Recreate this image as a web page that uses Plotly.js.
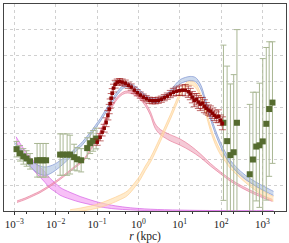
<!DOCTYPE html>
<html><head><meta charset="utf-8">
<script src="https://cdn.plot.ly/plotly-3.0.1.min.js"></script>
<style>html,body{margin:0;padding:0;background:#fff}#c{width:289px;height:243px}</style>
</head><body><div id="c"></div>
<script>
// ---- observed data: red (inner) ----
const rRed = [0.101,0.119,0.133,0.149,0.166,0.183,0.197,0.208,0.220,0.233,0.250,0.275,0.308,0.353,0.406,0.481,0.568,0.671,0.794,0.938,1.109,1.311,1.550,1.833,2.167,2.561,3.03,3.58,4.23,5.00,5.91,6.99,8.26,9.77,11.5,13.6,16.1,18.0,20.2,22.5,25.2,28.2,31.5,35.2,39.4,44.0,49.2,55.1,61.5,68.9,76.9,86.1,96.2,107.5];
const yRed = [2.66,2.85,3.05,3.20,3.43,3.70,3.94,4.15,4.36,4.55,4.75,4.90,4.98,5.00,4.98,4.94,4.86,4.79,4.67,4.57,4.48,4.40,4.34,4.28,4.26,4.26,4.28,4.32,4.38,4.44,4.52,4.59,4.63,4.65,4.67,4.67,4.61,4.52,4.40,4.28,4.32,4.21,4.13,4.17,4.05,3.97,3.90,3.86,3.78,3.70,3.63,3.66,3.51,3.39];
const eRed = [0.12,0.14,0.15,0.15,0.17,0.18,0.18,0.18,0.18,0.18,0.15,0.15,0.12,0.12,0.12,0.12,0.12,0.12,0.12,0.12,0.12,0.12,0.12,0.12,0.12,0.12,0.12,0.12,0.12,0.12,0.14,0.15,0.16,0.18,0.2,0.22,0.22,0.22,0.22,0.25,0.22,0.25,0.25,0.22,0.25,0.22,0.2,0.2,0.2,0.2,0.2,0.25,0.2,0.25];

// ---- observed data: green ----
const rGreen = [0.00113,0.00137,0.00165,0.00198,0.0024,0.00355,0.0042,0.00496,0.00586,0.0128,0.0151,0.0189,0.0223,0.0279,0.033,0.0413,0.0577,0.0682,0.0805,0.0953,114,140,168,202,242,493,589,708,847,1019,1239,1455,1750];
const yGreen = [2.39,2.23,2.11,2.03,1.92,1.96,1.96,1.96,1.96,2.18,2.18,2.18,2.18,2.08,2.00,1.96,2.43,2.62,2.71,2.80,3.41,2.70,2.16,2.27,3.41,1.42,1.99,2.49,2.54,2.69,3.37,3.94,4.19];
const eGreen = [0.3,0.3,0.3,0.3,0.3,0.65,0.65,0.65,0.65,0.8,0.8,0.8,0.75,0.5,0.45,0.45,0.4,0.4,0.4,0.4,3.0,2.9,2.75,3.0,3.6,2.7,2.6,2.1,2.4,3.2,2.95,2.6,2.35];

// ---- model bands: centre and half-width ----
const rBlue = [0.00104,0.00137,0.00182,0.0024,0.00317,0.0042,0.00555,0.00733,0.00968,0.0128,0.0169,0.0223,0.0295,0.0391,0.0516,0.0682,0.0902,0.119,0.157,0.208,0.275,0.364,0.481,0.635,0.839,1.109,1.466,1.937,2.56,3.39,4.48,5.91,7.82,10.3,13.6,18.0,23.9,31.5,41.7,55.1,72.8,96.2,127,168,222,294,388,513,678,896,1183,1563,1850];
const yBlue = [2.54,2.31,2.08,1.85,1.69,1.58,1.54,1.59,1.69,1.83,1.98,2.14,2.35,2.52,2.74,2.97,3.24,3.51,3.82,4.13,4.44,4.69,4.86,4.85,4.75,4.59,4.42,4.30,4.26,4.30,4.42,4.59,4.81,5.00,5.08,5.12,5.08,4.83,4.25,3.63,3.06,2.58,2.19,1.88,1.65,1.46,1.30,1.17,1.05,0.94,0.84,0.74,0.68];
const wBlue = [0.10,0.11,0.12,0.13,0.15,0.16,0.16,0.15,0.13,0.12,0.10,0.08,0.07,0.06,0.06,0.06,0.06,0.06,0.06,0.06,0.06,0.06,0.07,0.07,0.07,0.07,0.07,0.07,0.07,0.07,0.07,0.07,0.08,0.08,0.08,0.08,0.08,0.08,0.08,0.08,0.08,0.08,0.08,0.08,0.08,0.08,0.08,0.08,0.08,0.08,0.08,0.08,0.08];

const rViolet = [0.0011,0.00137,0.00182,0.0024,0.00317,0.0042,0.00555,0.00733,0.00968,0.0128,0.0223,0.0391,0.0682,0.119,0.275,0.635,1.937,10.3,96.2,1850];
const yViolet = [2.77,2.50,2.19,1.92,1.69,1.50,1.30,1.07,0.92,0.76,0.59,0.45,0.34,0.24,0.14,0.085,0.04,0.015,0.006,0.002];
const wViolet = [0.10,0.12,0.14,0.16,0.18,0.19,0.20,0.19,0.17,0.15,0.13,0.11,0.09,0.08,0.06,0.04,0.03,0.02,0.01,0.005];

const rPink = [0.00116,0.00182,0.00284,0.0042,0.00733,0.0128,0.0189,0.0295,0.0461,0.0682,0.101,0.157,0.208,0.275,0.364,0.481,0.635,0.839,1.109,1.466,1.937,2.56,3.39,4.48,5.91,10.3,18.0,31.5,55.1,96.2,168,294,513,896,1750];
const yPink = [0.36,0.47,0.61,0.74,0.98,1.25,1.46,1.71,1.95,2.35,2.81,3.47,3.90,4.25,4.48,4.59,4.59,4.52,4.36,4.13,3.78,3.28,3.05,2.93,2.83,2.66,2.43,2.14,1.79,1.48,1.19,0.96,0.76,0.59,0.41];
const wPink = [0.03,0.03,0.03,0.03,0.03,0.03,0.03,0.03,0.03,0.03,0.04,0.04,0.04,0.04,0.04,0.04,0.04,0.05,0.05,0.06,0.07,0.09,0.1,0.11,0.12,0.12,0.1,0.07,0.05,0.04,0.04,0.04,0.04,0.04,0.04];

const rOrange = [0.0223,0.0391,0.0682,0.119,0.208,0.364,0.537,0.839,1.109,1.466,1.937,2.56,3.39,4.48,5.91,7.82,10.3,13.6,18.0,23.9,31.5,41.7,55.1,72.8,96.2,127,168,222,294,388,513,801,1183,1850];
const yOrange = [0.0,0.05,0.12,0.22,0.36,0.53,0.68,1.03,1.30,1.65,1.96,2.35,2.77,3.20,3.63,4.09,4.52,4.83,4.96,4.86,4.48,3.90,3.20,2.66,2.27,2.00,1.73,1.54,1.36,1.19,1.03,0.80,0.63,0.47];
const wOrange = [0.05,0.06,0.07,0.08,0.09,0.09,0.09,0.09,0.09,0.09,0.09,0.09,0.09,0.09,0.09,0.09,0.09,0.09,0.09,0.09,0.09,0.09,0.09,0.09,0.09,0.09,0.09,0.09,0.09,0.09,0.09,0.09,0.09,0.09];

const tickVals = [0.001, 0.01, 0.1, 1, 10, 100, 1000];
const tickText = ['10<sup>\u22123</sup>', '10<sup>\u22122</sup>', '10<sup>\u22121</sup>', '10<sup>0</sup>', '10<sup>1</sup>', '10<sup>2</sup>', '10<sup>3</sup>'];

function band(r, c, w, edge, fill) {
  const lo = c.map((v, i) => v - w[i]);
  const hi = c.map((v, i) => v + w[i]);
  return [
    {x: r, y: lo, mode: 'lines', line: {color: edge, width: 0.8, shape: 'spline'}, hoverinfo: 'skip', showlegend: false},
    {x: r, y: hi, mode: 'lines', line: {color: edge, width: 0.8, shape: 'spline'}, fill: 'tonexty', fillcolor: fill, hoverinfo: 'skip', showlegend: false}
  ];
}

const traces = [].concat(
  band(rViolet, yViolet, wViolet, 'rgba(214,100,230,0.9)', 'rgba(240,140,240,0.55)'),
  band(rPink, yPink, wPink, 'rgba(232,120,150,0.8)', 'rgba(236,150,175,0.5)'),
  band(rOrange, yOrange, wOrange, 'rgba(255,205,140,0.8)', 'rgba(255,222,170,0.6)'),
  band(rBlue, yBlue, wBlue, 'rgba(130,150,210,0.9)', 'rgba(176,196,228,0.65)'),
  [{
    x: rGreen, y: yGreen, mode: 'markers', showlegend: false,
    marker: {symbol: 'square', size: 6, color: '#556b2f'},
    error_y: {type: 'data', array: eGreen, color: '#a9b794', thickness: 1, width: 3}
  },
  {
    x: rRed, y: yRed, mode: 'markers', showlegend: false,
    marker: {symbol: 'square', size: 3.5, color: '#8b0000'},
    error_y: {type: 'data', array: eRed, color: 'rgba(150,10,10,0.6)', thickness: 1, width: 3.5}
  }]
);

const layout = {
  width: 289, height: 243,
  margin: {l: 4, r: 3, t: 4, b: 32},
  paper_bgcolor: '#fff', plot_bgcolor: '#fff',
  showlegend: false,
  xaxis: {
    type: 'log', range: [-3.25, 3.57],
    tickvals: tickVals, ticktext: tickText,
    ticks: 'outside', ticklen: 3, tickcolor: '#333',
    minor: {ticks: 'outside', ticklen: 2, tickcolor: '#333', showgrid: false},
    showgrid: true, gridcolor: '#d0d0d0', griddash: 'dot', gridwidth: 1,
    showline: true, linecolor: '#444', linewidth: 1, mirror: true,
    zeroline: false, automargin: false,
    tickfont: {family: 'Liberation Serif, serif', size: 11, color: '#222'},
    title: {text: '<i>r</i> (kpc)', font: {family: 'Liberation Serif, serif', size: 11.5, color: '#222'}, standoff: 6}
  },
  yaxis: {
    range: [0, 8], dtick: 1, showticklabels: false, ticks: '',
    showgrid: true, gridcolor: '#d0d0d0', griddash: 'dot', gridwidth: 1,
    showline: true, linecolor: '#444', linewidth: 1, mirror: true,
    zeroline: false
  }
};

Plotly.newPlot('c', traces, layout, {displayModeBar: false, staticPlot: true});
</script>
</body></html>
